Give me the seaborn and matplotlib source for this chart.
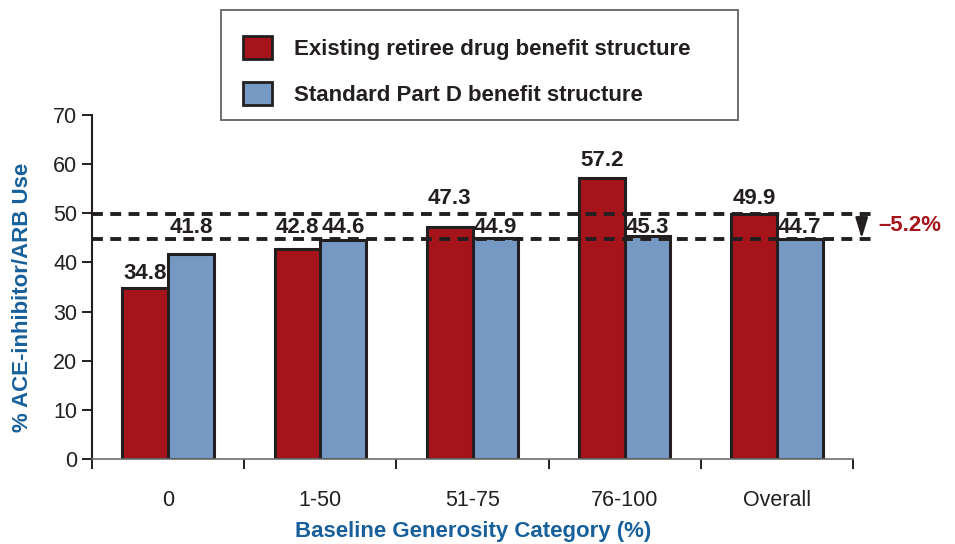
import matplotlib
matplotlib.use("Agg")
import matplotlib.pyplot as plt
from matplotlib.patches import Patch, Rectangle
import seaborn as sns
import pandas as pd

# Data
categories = ["0", "1-50", "51-75", "76-100", "Overall"]
series_names = ["Existing retiree drug benefit structure",
                "Standard Part D benefit structure"]
existing = [34.8, 42.8, 47.3, 57.2, 49.9]
standard = [41.8, 44.6, 44.9, 45.3, 44.7]
overall_change = "\u20135.2%"
y_ticks = [0, 10, 20, 30, 40, 50, 60, 70]

RED = "#a5141a"
BLUE = "#7599c2"
INK = "#231f20"
TITLE_BLUE = "#18609b"

df = pd.DataFrame({
    "category": categories * 2,
    "value": existing + standard,
    "series": [series_names[0]] * len(categories) + [series_names[1]] * len(categories),
})

sns.set_theme(style="white")
plt.rcParams["font.family"] = ["Liberation Sans", "DejaVu Sans"]

fig = plt.figure(figsize=(9.55, 5.44), dpi=100)
ax = fig.add_axes([92 / 955, 1 - 459 / 544, (853 - 92) / 955, (459 - 115) / 544])

sns.barplot(data=df, x="category", y="value", hue="series", order=categories,
            hue_order=series_names, palette=[RED, BLUE], width=0.6, gap=0,
            edgecolor=INK, linewidth=2.2, saturation=1, errorbar=None,
            legend=False, ax=ax)

ax.set_xlim(-0.5, 4.5)
ax.set_ylim(0, 70)
ax.set_yticks(y_ticks)

hi, lo = existing[-1], standard[-1]


def label_baseline(v):
    """Baseline for a value label, kept clear of the two dashed lines."""
    if v < lo - 4.5:
        return v + 1.8
    if v <= lo + 1.0:
        return lo + 1.2          # inside the band between the lines
    if v < hi + 1.0:
        return hi + 1.9          # just above the upper line
    return v + 2.4


# Value labels above every bar
for container in ax.containers:
    for bar in container:
        h = bar.get_height()
        ax.text(bar.get_x() + bar.get_width() / 2, label_baseline(h),
                f"{h:.1f}", ha="center", va="baseline", fontsize=16,
                fontweight="bold", color=INK, zorder=7)

# Reference lines for the overall values and the change between them
x_end = 4.64
for yv in (hi, lo):
    ax.plot([-0.5, x_end], [yv, yv], color=INK, lw=2.8, ls=(0, (2.8, 1.9)),
            clip_on=False, zorder=5)
ax.annotate("", xy=(4.557, lo + 0.2), xytext=(4.557, hi),
            arrowprops=dict(arrowstyle="-|>,head_length=1.25,head_width=0.38",
                            color=INK, lw=1.6, mutation_scale=10,
                            shrinkA=0, shrinkB=0),
            annotation_clip=False, zorder=6)
ax.text(4.665, (hi + lo) / 2 + 0.2, overall_change, ha="left", va="center",
        fontsize=16, fontweight="bold", color=RED, clip_on=False)

# Axes styling
for side in ("top", "right"):
    ax.spines[side].set_visible(False)
ax.spines["left"].set_color(INK)
ax.spines["left"].set_linewidth(1.5)
ax.spines["bottom"].set_color("#6d6e71")
ax.spines["bottom"].set_linewidth(1.2)

ax.tick_params(axis="y", direction="out", length=7.5, width=1.4, color=INK,
               labelsize=15.5, labelcolor=INK, pad=3, left=True)
ax.set_xticks([i - 0.5 for i in range(len(categories) + 1)], minor=True)
ax.tick_params(axis="x", which="minor", direction="out", length=7, width=1.4,
               color=INK, bottom=True)
ax.tick_params(axis="x", which="major", length=0, labelsize=15.5,
               labelcolor=INK, pad=22)

ax.set_xlabel("Baseline Generosity Category (%)", fontsize=16,
              fontweight="bold", color=TITLE_BLUE)
ax.xaxis.set_label_coords(0.501, -0.18)
ax.set_ylabel("% ACE-inhibitor/ARB Use", fontsize=16, fontweight="bold",
              color=TITLE_BLUE)
ax.yaxis.set_label_coords(-0.0775, 0.47)

# Legend in a framed box above the plot
fig.patches.append(Rectangle((221 / 955, 1 - 120 / 544), (738 - 221) / 955,
                             110 / 544, transform=fig.transFigure,
                             facecolor="white", edgecolor="#6d6e71", lw=1.4))
handles = [Patch(facecolor=RED, edgecolor=INK, lw=2),
           Patch(facecolor=BLUE, edgecolor=INK, lw=2)]
fig.legend(handles, series_names, loc="upper left",
           bbox_to_anchor=(243 / 955, 1 - 36 / 544),
           bbox_transform=fig.transFigure, frameon=False, borderpad=0,
           borderaxespad=0, handlelength=1.3, handleheight=1.22,
           handletextpad=1.0, labelspacing=1.0,
           prop=dict(size=16, weight="bold"), labelcolor=INK)

fig.savefig("out.png", dpi=100)
